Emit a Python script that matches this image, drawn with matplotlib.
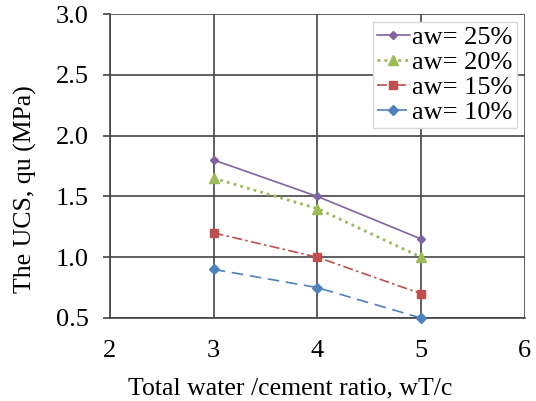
import matplotlib.pyplot as plt

plt.rcParams['font.family'] = ['Liberation Serif', 'DejaVu Serif']

ratio = [3, 4, 5]
labels = ['aw= 25%', 'aw= 20%', 'aw= 15%', 'aw= 10%']
ucs_25 = [1.8, 1.5, 1.15]
ucs_20 = [1.65, 1.4, 1.0]
ucs_15 = [1.2, 1.0, 0.7]
ucs_10 = [0.9, 0.75, 0.5]

colors = ['#8064A2', '#9BBB59', '#C0504D', '#4F81BD']
markers = ['D', '^', 's', 'D']
msizes = [4, 7, 6, 5]
styles = ['-', (0, (1, 1.5)), (0, (6, 2, 1.5, 2)), (0, (7, 4))]
widths = [1.2, 2.0, 1.2, 1.2]

fig = plt.figure(figsize=(5.36, 4.01), dpi=100)
ax = fig.add_axes([0.205, 0.207, 0.774, 0.758])

for y, lab, c, m, ms, ls, lw in zip([ucs_25, ucs_20, ucs_15, ucs_10], labels, colors,
                                     markers, msizes, styles, widths):
    ax.plot(ratio, y, color=c, marker=m, markersize=ms, linestyle=ls, linewidth=lw,
            label=lab, clip_on=False, zorder=3)

ax.set_xlim(2, 6)
ax.set_ylim(0.5, 3.0)
ax.set_xticks([2, 3, 4, 5, 6])
ax.set_yticks([0.5, 1.0, 1.5, 2.0, 2.5, 3.0])
ax.set_yticklabels(['0.5', '1.0', '1.5', '2.0', '2.5', '3.0'])
ax.grid(True, color='#444444', linewidth=1.2)
ax.set_axisbelow(True)
for s in ['top', 'right']:
    ax.spines[s].set_visible(False)
for s in ['left', 'bottom']:
    ax.spines[s].set_color('#444444')
    ax.spines[s].set_linewidth(1.2)
ax.tick_params(axis='x', length=0, pad=16, labelsize=19)
ax.tick_params(axis='y', length=5, width=1.2, color='#444444', direction='out', pad=10, labelsize=19)

ax.set_xlabel('Total water /cement ratio, wT/c', fontsize=18.5)
ax.set_ylabel('The UCS, qu (MPa)', fontsize=18.5)
ax.xaxis.set_label_coords(0.434, -0.197)
ax.yaxis.set_label_coords(-0.176, 0.424)

leg = ax.legend(loc='upper right', fontsize=19, handlelength=1.25, handletextpad=0.1,
                borderpad=0.15, labelspacing=0.05, fancybox=False, framealpha=1,
                borderaxespad=0.3)
leg.get_frame().set_edgecolor('#d9d9d9')

fig.savefig('out.png', dpi=100)
